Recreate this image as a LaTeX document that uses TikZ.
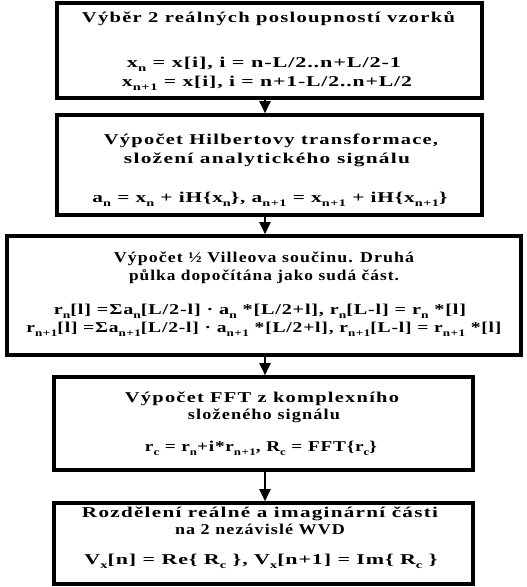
\documentclass[tikz,border=0pt]{standalone}
\usepackage{fontspec}
\usepackage{graphicx}
\setmainfont{Liberation Serif}
\usetikzlibrary{arrows.meta}
\newfontfamily\headfont[LetterSpace=6]{Liberation Serif Bold}
\newfontfamily\formfont[LetterSpace=4]{Liberation Serif Bold}
\newcommand\lo[1]{\raisebox{-3.5pt}{\fontsize{10}{10}\selectfont #1}}
\newcommand\fitw[2]{\resizebox{#1pt}{\height}{#2}}
\begin{document}
\begin{tikzpicture}[x=1pt,y=-1pt,
  box/.style={draw, line width=3.6pt, rectangle, inner sep=0pt},
  head/.style={font=\headfont\fontsize{15}{17}\selectfont, inner sep=0pt, text height=10.5pt, text depth=3pt},
  form/.style={font=\formfont\fontsize{15}{18}\selectfont, inner sep=0pt, text height=10pt, text depth=3pt},
  arr/.style={line width=2.2pt, -{Triangle[width=11pt,length=12pt]}}]
\useasboundingbox (0,0) rectangle (527,587);
\coordinate (ax) at (265,0);
\node[box, minimum width=425, minimum height=95] (b1) at (269.5,50.5) {};
\node[box, minimum width=425, minimum height=100] (b2) at (269.5,165) {};
\node[box, minimum width=514, minimum height=119] (b3) at (264,295.5) {};
\node[box, minimum width=419, minimum height=93] (b4) at (263.5,423.5) {};
\node[box, minimum width=419, minimum height=81] (b5) at (263.5,543.5) {};

\node[head] (t1) at (268.5,19) {\fitw{373}{Výběr 2 reálných posloupností vzorků}};
\node[form] (f1a) at (264,64) {\fitw{274}{x\lo{n} = x[i], i = n-L/2..n+L/2-1}};
\node[form] (f1b) at (267,83) {\fitw{290}{x\lo{n+1} = x[i], i = n+1-L/2..n+L/2}};

\node[head] (t2a) at (271,141) {\fitw{334}{Výpočet Hilbertovy transformace,}};
\node[head] (t2b) at (267,160) {\fitw{286}{složení analytického signálu}};
\node[form] (f2) at (270,199) {\fitw{355}{a\lo{n} = x\lo{n} + iH\{x\lo{n}\}, a\lo{n+1} = x\lo{n+1} + iH\{x\lo{n+1}\}}};

\node[head] (t3a) at (264,259) {\fitw{300}{Výpočet ½ Villeova součinu. Druhá}};
\node[head] (t3b) at (264,277) {\fitw{270}{půlka dopočítána jako sudá část.}};
\node[form] (f3a) at (260,311) {\fitw{412}{r\lo{n}[l] =Σa\lo{n}[L/2-l] · a\lo{n} *[L/2+l], r\lo{n}[L-l] = r\lo{n} *[l]}};
\node[form] (f3b) at (264,329) {\fitw{475}{r\lo{n+1}[l] =Σa\lo{n+1}[L/2-l] · a\lo{n+1} *[L/2+l], r\lo{n+1}[L-l] = r\lo{n+1} *[l]}};

\node[head] (t4a) at (262,399) {\fitw{274}{Výpočet FFT z komplexního}};
\node[head] (t4b) at (264,416) {\fitw{152}{složeného signálu}};
\node[form] (f4) at (261,448) {\fitw{232}{r\lo{c} = r\lo{n}+i*r\lo{n+1}, R\lo{c} = FFT\{r\lo{c}\}}};

\node[head] (t5a) at (260,514) {\fitw{356}{Rozdělení reálné a imaginární části}};
\node[head] (t5b) at (260,531) {\fitw{170}{na 2 nezávislé WVD}};
\node[form] (f5) at (261,561) {\fitw{353}{V\lo{x}[n] = Re\{ R\lo{c} \}, V\lo{x}[n+1] = Im\{ R\lo{c} \}}};

\draw[arr] (b1.south -| ax) -- (b2.north -| ax);
\draw[arr] (b2.south -| ax) -- (b3.north -| ax);
\draw[arr] (b3.south -| ax) -- (b4.north -| ax);
\draw[arr] (b4.south -| ax) -- (b5.north -| ax);
\end{tikzpicture}
\end{document}
